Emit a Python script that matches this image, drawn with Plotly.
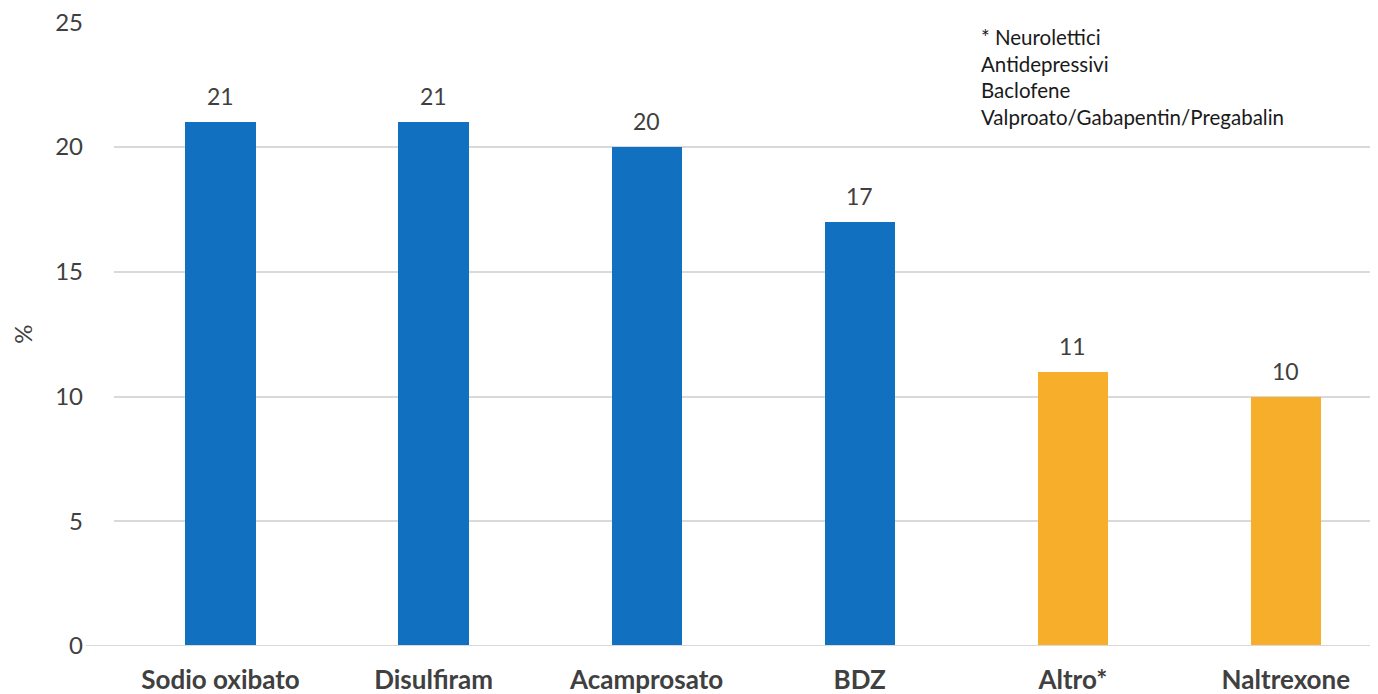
import plotly.graph_objects as go

categories = ["Sodio oxibato", "Disulfiram", "Acamprosato", "BDZ", "Altro*", "Naltrexone"]
values = [21, 21, 20, 17, 11, 10]
colors = ["#1170C0", "#1170C0", "#1170C0", "#1170C0", "#F7AE2B", "#F7AE2B"]
y_ticks = [0, 5, 10, 15, 20, 25]
note_lines = ["* Neurolettici", "Antidepressivi", "Baclofene", "Valproato/Gabapentin/Pregabalin"]

FONT = "Lato, 'Open Sans', sans-serif"
TXT = "#404040"

xs = list(range(len(categories)))

fig = go.Figure(go.Bar(
    x=xs,
    y=values,
    width=0.33,
    marker=dict(color=colors, line=dict(width=0)),
    hoverinfo="x+y",
))

for xi, v in zip(xs, values):
    fig.add_annotation(
        x=xi, y=v, xref="x", yref="y", text=str(v), showarrow=False,
        yanchor="bottom", yshift=10,
        font=dict(family=FONT, size=23, color=TXT),
    )

L, T, B = 106, 14, 56
fig.update_layout(
    width=1378, height=694,
    margin=dict(l=L, r=0, t=T, b=B),
    paper_bgcolor="white", plot_bgcolor="white",
    showlegend=False,
    bargap=0,
    xaxis=dict(
        range=[-0.5, 5.47],
        tickmode="array",
        tickvals=xs,
        ticktext=["<b>%s</b>" % c for c in categories],
        tickfont=dict(family=FONT, size=26, color=TXT),
        showgrid=False, zeroline=False, showline=False, ticks="",
        ticklabelstandoff=16,
        ticklabeloverflow="allow",
        automargin=False,
    ),
    yaxis=dict(
        range=[0, 25.01],
        tickvals=y_ticks,
        tickfont=dict(family=FONT, size=24, color=TXT),
        showgrid=True, gridcolor="#D9D9D9", gridwidth=1.5,
        zeroline=False, showline=False, ticks="",
        ticklabelstandoff=30,
        ticklabeloverflow="allow",
        automargin=False,
        title=dict(text="%", font=dict(family=FONT, size=24, color=TXT), standoff=23),
    ),
)

fig.add_shape(type="line", xref="paper", yref="y", x0=-0.022, x1=1, y0=0, y1=0,
              line=dict(color="#D9D9D9", width=2))

fig.add_annotation(
    xref="paper", yref="paper", x=(971 - L) / (1378 - L), y=0.999,
    xanchor="left", yanchor="top", align="left", showarrow=False,
    text="<br>".join(note_lines),
    font=dict(family=FONT, size=20.5, color="#1A1A1A"),
)

fig.write_html("out.html")
